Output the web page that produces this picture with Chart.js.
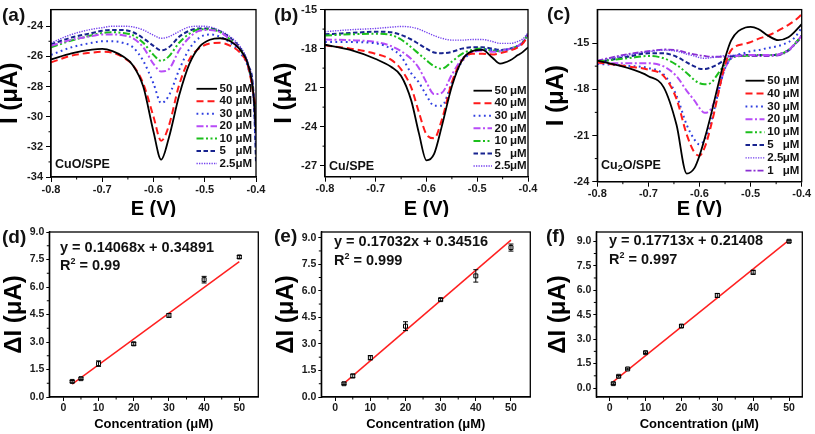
<!DOCTYPE html>
<html>
<head>
<meta charset="utf-8">
<script src="https://cdn.jsdelivr.net/npm/chart.js@4.4.1/dist/chart.umd.min.js"></script>
<style>
  body { margin: 0; background: #fff; width: 815px; height: 434px; position: relative; overflow: hidden; }
  canvas { position: absolute; }
</style>
</head>
<body>
<canvas id="pa" width="272" height="217" style="left:0;top:0"></canvas>
<canvas id="pb" width="272" height="217" style="left:272px;top:0"></canvas>
<canvas id="pc" width="271" height="217" style="left:544px;top:0"></canvas>
<canvas id="pd" width="272" height="217" style="left:0;top:217px"></canvas>
<canvas id="pe" width="272" height="217" style="left:272px;top:217px"></canvas>
<canvas id="pf" width="271" height="217" style="left:544px;top:217px"></canvas>
<script>
// ---- (a) CuO/SPE voltammograms ----
const aE = [-0.80, -0.76, -0.72, -0.70, -0.68, -0.66, -0.64, -0.62, -0.60, -0.585, -0.57, -0.55, -0.53, -0.51, -0.49, -0.47, -0.45, -0.43, -0.415, -0.405, -0.40];
const a50 = [-26.2, -25.8, -25.55, -25.5, -25.65, -26.0, -26.6, -28.0, -31.0, -32.85, -31.4, -28.6, -26.5, -25.35, -24.9, -24.8, -25.0, -25.6, -26.6, -28.5, -31.0];
const a40 = [-26.4, -25.95, -25.75, -25.7, -25.75, -26.05, -26.6, -27.8, -30.0, -31.6, -30.6, -27.9, -26.2, -25.45, -25.15, -25.1, -25.3, -25.8, -26.7, -28.5, -29.5];
const a30 = [-25.9, -25.4, -25.1, -25.0, -25.0, -25.1, -25.4, -26.3, -27.8, -29.1, -28.6, -26.9, -25.5, -24.75, -24.55, -24.7, -25.1, -25.8, -26.8, -28.6, -32.0];
const a20 = [-25.3, -24.9, -24.65, -24.55, -24.55, -24.6, -24.8, -25.4, -26.5, -27.0, -26.85, -25.6, -24.75, -24.3, -24.25, -24.4, -24.9, -25.6, -26.7, -28.5, -30.5];
const a10 = [-25.4, -24.95, -24.6, -24.45, -24.4, -24.45, -24.6, -25.1, -25.9, -26.3, -26.0, -25.1, -24.5, -24.2, -24.2, -24.4, -24.9, -25.6, -26.7, -28.5, -30.0];
const a5 = [-25.2, -24.75, -24.45, -24.3, -24.25, -24.25, -24.4, -24.8, -25.3, -25.6, -25.4, -24.7, -24.3, -24.15, -24.15, -24.35, -24.8, -25.5, -26.6, -28.4, -33.0];
const a2_5 = [-25.1, -24.55, -24.2, -24.1, -24.0, -24.0, -24.05, -24.25, -24.6, -24.8, -24.7, -24.35, -24.05, -24.0, -24.05, -24.3, -24.7, -25.4, -26.5, -28.4, -32.0];
const aLabels = ['50', '40', '30', '20', '10', '5', '2.5'];
const aSeries = [a50, a40, a30, a20, a10, a5, a2_5];
const aTicksY = [-34, -32, -30, -28, -26, -24];
const aTickLabelsY = ['-34', '-32', '-30', '-28', '-26', '-24'];

// ---- (b) Cu/SPE voltammograms ----
const bE = [-0.80, -0.75, -0.70, -0.67, -0.65, -0.63, -0.615, -0.60, -0.585, -0.57, -0.55, -0.53, -0.51, -0.49, -0.47, -0.455, -0.435, -0.42, -0.41, -0.40];
const b50 = [-17.7, -18.1, -18.8, -19.4, -20.1, -22.0, -24.5, -26.6, -26.1, -24.0, -20.9, -18.9, -18.2, -18.1, -18.7, -19.15, -18.9, -18.5, -18.25, -17.9];
const b40 = [-17.75, -18.0, -18.4, -18.85, -19.6, -21.0, -22.9, -24.6, -24.9, -23.5, -20.6, -18.9, -18.4, -18.4, -18.45, -18.35, -18.15, -17.9, -17.6, -17.0];
const b30 = [-17.5, -17.5, -17.6, -18.0, -18.6, -19.9, -20.6, -21.6, -22.4, -22.4, -20.6, -19.0, -18.3, -18.05, -18.1, -18.15, -18.0, -17.8, -17.55, -16.9];
const b20 = [-17.3, -17.35, -17.5, -17.8, -18.2, -18.8, -19.5, -20.6, -21.5, -21.4, -20.0, -18.8, -18.3, -18.15, -18.25, -18.2, -18.0, -17.8, -17.5, -16.9];
const b10 = [-17.0, -16.9, -16.85, -16.95, -17.3, -17.9, -18.4, -18.9, -19.35, -19.55, -19.0, -18.4, -18.1, -18.0, -18.15, -18.2, -18.0, -17.8, -17.5, -16.9];
const b5 = [-16.9, -16.8, -16.7, -16.75, -16.95, -17.3, -17.65, -18.0, -18.3, -18.35, -18.25, -18.0, -17.9, -17.9, -18.0, -18.1, -18.0, -17.8, -17.5, -16.9];
const b2_5 = [-16.7, -16.55, -16.45, -16.35, -16.3, -16.35, -16.5, -16.75, -17.0, -17.2, -17.35, -17.35, -17.3, -17.3, -17.45, -17.6, -17.6, -17.45, -17.25, -16.8];
const bLabels = ['50', '40', '30', '20', '10', '5', '2.5'];
const bSeries = [b50, b40, b30, b20, b10, b5, b2_5];
const bTicksY = [-27, -24, -21, -18, -15];
const bTickLabelsY = ['-27', '-24', '21', '-18', '-15'];

// ---- (c) Cu2O/SPE voltammograms ----
const cE = [-0.80, -0.74, -0.70, -0.67, -0.645, -0.625, -0.61, -0.60, -0.59, -0.577, -0.564, -0.551, -0.538, -0.51, -0.50, -0.485, -0.466, -0.446, -0.426, -0.413, -0.40];
const c50 = [-16.14, -16.62, -17.15, -17.88, -20.31, -23.47, -23.12, -22.31, -21.22, -19.58, -17.78, -16.1, -14.83, -13.99, -13.95, -14.09, -14.52, -14.81, -14.62, -14.24, -13.78];
const c40 = [-16.26, -16.52, -16.73, -17.15, -18.63, -20.94, -22.1, -22.31, -21.79, -20.31, -18.41, -16.52, -15.46, -15.04, -14.94, -14.73, -14.52, -14.2, -13.82, -13.52, -13.15];
const c30 = [-16.35, -16.48, -16.62, -17.04, -18.41, -20.31, -21.26, -21.58, -21.26, -20.1, -18.31, -16.73, -15.99, -15.63, -15.53, -15.46, -15.32, -15.19, -14.94, -14.62, -13.99];
const c20 = [-16.31, -16.31, -16.31, -16.52, -17.15, -18.1, -18.73, -19.22, -19.53, -19.26, -18.1, -16.73, -15.99, -15.78, -15.78, -15.78, -15.78, -15.74, -15.46, -15.04, -14.52];
const c10 = [-16.2, -15.99, -15.84, -15.99, -16.41, -16.94, -17.4, -17.61, -17.68, -17.57, -17.0, -16.41, -15.99, -15.82, -15.8, -15.78, -15.78, -15.74, -15.46, -15.04, -14.52];
const c5 = [-16.26, -15.89, -15.67, -15.67, -15.89, -16.26, -16.52, -16.67, -16.69, -16.58, -16.37, -16.1, -15.89, -15.78, -15.78, -15.78, -15.78, -15.74, -15.46, -15.04, -14.52];
const c2_5 = [-16.2, -15.78, -15.57, -15.46, -15.53, -15.72, -15.84, -15.95, -15.99, -15.95, -15.89, -15.82, -15.8, -15.78, -15.78, -15.78, -15.78, -15.74, -15.46, -15.04, -14.52];
const c1 = [-16.14, -15.72, -15.53, -15.42, -15.46, -15.63, -15.74, -15.8, -15.84, -15.89, -15.89, -15.89, -15.86, -15.84, -15.84, -15.84, -15.84, -15.8, -15.51, -15.08, -14.62];
const cLabels = ['50', '40', '30', '20', '10', '5', '2.5', '1'];
const cSeries = [c50, c40, c30, c20, c10, c5, c2_5, c1];
const cTicksY = [-24, -21, -18, -15];
const cTickLabelsY = ['-24', '-21', '-18', '-15'];

const eTicksX = [-0.8, -0.7, -0.6, -0.5, -0.4];
const eTickLabelsX = ['-0.8', '-0.7', '-0.6', '-0.5', '-0.4'];

// ---- (d)(e)(f) calibration ----
const dConc = [2.5, 5, 10, 20, 30, 40, 50];
const dVal = [0.85, 1.0, 1.82, 2.9, 4.45, 6.4, 7.64];
const dErr = [0.05, 0.05, 0.15, 0.08, 0.1, 0.18, 0.08];
const dFitX = [2.5, 50];
const dFitY = [0.70, 7.38];

const eConc = [2.5, 5, 10, 20, 30, 40, 50];
const eVal = [0.75, 1.19, 2.22, 4.0, 5.5, 6.84, 8.44];
const eErr = [0.05, 0.1, 0.12, 0.25, 0.07, 0.35, 0.2];
const eFitX = [2.5, 50];
const eFitY = [0.77, 8.86];

const fConc = [1, 2.5, 5, 10, 20, 30, 40, 50];
const fVal = [0.27, 0.72, 1.17, 2.17, 3.8, 5.68, 7.1, 9.0];
const fErr = [0.05, 0.05, 0.05, 0.05, 0.08, 0.12, 0.12, 0.06];
const fFitX = [1, 50];
const fFitY = [0.39, 9.07];

const calTicksX = [0, 10, 20, 30, 40, 50];
const calTickLabelsX = ['0', '10', '20', '30', '40', '50'];
const calTicksY = [0, 1.5, 3, 4.5, 6, 7.5, 9];
const calTickLabelsY = ['0.0', '1.5', '3.0', '4.5', '6.0', '7.5', '9.0'];

const SANS = "'Liberation Sans', Arial, sans-serif";
const NARROW = "'Liberation Sans Narrow', 'Liberation Sans', sans-serif";

// colour, dash, width per concentration
const LINE = {
  '50': ['#000000', [], 1.8],
  '40': ['#ff1a1a', [7, 4], 2],
  '30': ['#2f3fe0', [1.8, 3.4], 2],
  '20': ['#b84cf7', [7, 2.5, 2, 2.5], 2],
  '10': ['#1cbf1c', [7, 2.5, 2, 2.5, 2, 2.5], 2],
  '5': ['#17238f', [4.5, 2.5], 2],
  '2.5': ['#7442ee', [1.3, 1.2], 1.4],
  '1': ['#8a2fd2', [6, 2, 2, 2], 1.8]
};

// frame, minor ticks, error bars, in-plot legend and labels
const decor = {
  id: 'decor',
  afterDatasetsDraw(chart) {
    const { ctx, scales: { x, y } } = chart;
    ctx.save();
    ctx.strokeStyle = '#000';
    ctx.lineWidth = 1;
    chart.data.datasets.forEach(ds => {
      if (!ds.errors) return;
      ds.data.forEach((p, i) => {
        const px = x.getPixelForValue(p.x);
        const y1 = y.getPixelForValue(p.y - ds.errors[i]);
        const y2 = y.getPixelForValue(p.y + ds.errors[i]);
        ctx.beginPath();
        ctx.moveTo(px, y1); ctx.lineTo(px, y2);
        ctx.moveTo(px - 2.5, y1); ctx.lineTo(px + 2.5, y1);
        ctx.moveTo(px - 2.5, y2); ctx.lineTo(px + 2.5, y2);
        ctx.stroke();
      });
    });
    ctx.restore();
  },
  afterDraw(chart, args, o) {
    const { ctx, chartArea: a, scales: { x, y } } = chart;
    ctx.save();
    ctx.strokeStyle = '#000';
    ctx.lineWidth = 1.3;
    ctx.strokeRect(a.left, a.top, a.right - a.left, a.bottom - a.top);
    // minor ticks
    ctx.lineWidth = 1;
    ctx.beginPath();
    for (let i = 0; i < x.ticks.length - 1; i++) {
      const px = (x.getPixelForValue(x.ticks[i].value) + x.getPixelForValue(x.ticks[i + 1].value)) / 2;
      ctx.moveTo(px, a.bottom); ctx.lineTo(px, a.bottom + 2.5);
    }
    for (let i = 0; i < y.ticks.length - 1; i++) {
      const py = (y.getPixelForValue(y.ticks[i].value) + y.getPixelForValue(y.ticks[i + 1].value)) / 2;
      ctx.moveTo(a.left, py); ctx.lineTo(a.left - 2.5, py);
    }
    ctx.stroke();
    // legend inside the plot
    if (o.legend) {
      const L = o.legend;
      ctx.font = 'bold 11.5px ' + NARROW;
      ctx.textBaseline = 'middle';
      ctx.textAlign = 'left';
      chart.data.datasets.forEach((ds, i) => {
        const yy = L.y0 + i * L.dy;
        ctx.strokeStyle = ds.borderColor;
        ctx.lineWidth = ds.borderWidth;
        ctx.setLineDash(ds.borderDash);
        ctx.beginPath(); ctx.moveTo(L.x1, yy); ctx.lineTo(L.x2, yy); ctx.stroke();
        ctx.setLineDash([]);
        ctx.fillStyle = '#111';
        ctx.fillText(ds.label, L.xNum, yy);
        ctx.fillText('\u03bcM', L.xUnit, yy);
      });
    }
    // free text
    (o.texts || []).forEach(t => {
      let xx = t.x;
      ctx.textBaseline = 'middle';
      ctx.textAlign = 'left';
      ctx.fillStyle = '#111';
      t.parts.forEach(p => {
        ctx.font = p.font;
        ctx.fillText(p.s, xx, t.y + (p.dy || 0));
        xx += ctx.measureText(p.s).width;
      });
    });
    ctx.restore();
  }
};
Chart.register(decor);

function axisOpts(o) {
  return {
    type: 'linear',
    min: o.min,
    max: o.max,
    afterBuildTicks: s => { s.ticks = o.ticks.map(v => ({ value: v })); },
    afterFit: o.fit,
    border: { display: true, color: '#000', width: 1.3 },
    grid: { drawOnChartArea: false, drawTicks: true, tickLength: o.tickLen, color: '#000', lineWidth: 1 },
    ticks: {
      font: { family: SANS, size: o.fontSize, weight: 'bold' },
      color: '#1a1a1a', padding: o.pad, maxRotation: 0, autoSkip: false,
      callback: (v, i) => o.labels[i]
    },
    title: { display: true, text: o.title, color: '#000', padding: 0, font: o.titleFont }
  };
}

function voltChart(id, cfg) {
  const cv = document.getElementById(id);
  const W = cv.width, H = cv.height, A = cfg.area;
  new Chart(cv, {
    type: 'line',
    data: {
      datasets: cfg.labels.map((lab, k) => ({
        label: lab,
        data: cfg.E.map((e, i) => ({ x: e, y: cfg.series[k][i] })),
        borderColor: LINE[lab][0],
        borderDash: LINE[lab][1],
        borderWidth: LINE[lab][2],
        pointRadius: 0,
        fill: false,
        cubicInterpolationMode: 'monotone'
      }))
    },
    options: {
      responsive: false,
      animation: false,
      layout: { padding: { left: 0, top: A[1], right: W - A[2], bottom: 0 } },
      scales: {
        x: axisOpts({
          min: -0.8, max: -0.4, ticks: eTicksX, labels: eTickLabelsX,
          fit: s => { s.height = H - A[3]; }, tickLen: 5, pad: 1, fontSize: 11,
          title: 'E (V)', titleFont: { family: NARROW, size: 20, weight: 'bold', lineHeight: 0.76 }
        }),
        y: axisOpts({
          min: cfg.yMin, max: cfg.yMax, ticks: cfg.ticksY, labels: cfg.tickLabelsY,
          fit: s => { s.width = A[0]; }, tickLen: 5, pad: 3, fontSize: 11,
          title: 'I (\u03bcA)', titleFont: { family: SANS, size: 24, weight: 'bold', lineHeight: cfg.titleLH }
        })
      },
      plugins: {
        legend: { display: false },
        tooltip: { enabled: false },
        decor: { legend: cfg.legend, texts: cfg.texts }
      }
    }
  });
}

function calChart(id, cfg) {
  const cv = document.getElementById(id);
  const W = cv.width, H = cv.height, A = cfg.area;
  new Chart(cv, {
    type: 'scatter',
    data: {
      datasets: [
        {
          label: 'data',
          data: cfg.conc.map((c, i) => ({ x: c, y: cfg.val[i] })),
          errors: cfg.err,
          pointStyle: 'rect', pointRadius: 2.8, borderWidth: 1,
          borderColor: '#000', backgroundColor: '#fff', showLine: false
        },
        {
          label: 'fit',
          data: cfg.fitX.map((c, i) => ({ x: c, y: cfg.fitY[i] })),
          showLine: true, pointRadius: 0, borderColor: '#ff2020', borderWidth: 1.5
        }
      ]
    },
    options: {
      responsive: false,
      animation: false,
      layout: { padding: { left: 0, top: A[1], right: W - A[2], bottom: 0 } },
      scales: {
        x: axisOpts({
          min: cfg.xMin, max: cfg.xMax, ticks: calTicksX, labels: calTickLabelsX,
          fit: s => { s.height = H - A[3]; }, tickLen: 4, pad: 1, fontSize: 10.5,
          title: 'Concentration (\u03bcM)', titleFont: { family: SANS, size: 13, weight: 'bold', lineHeight: 1.5 }
        }),
        y: axisOpts({
          min: cfg.yMin, max: cfg.yMax, ticks: calTicksY, labels: calTickLabelsY,
          fit: s => { s.width = A[0]; }, tickLen: 3, pad: 2, fontSize: 10.5,
          title: '\u0394I (\u03bcA)', titleFont: { family: SANS, size: 24, weight: 'bold', lineHeight: 1.2 }
        })
      },
      plugins: {
        legend: { display: false },
        tooltip: { enabled: false },
        decor: { texts: cfg.texts }
      }
    }
  });
}

const PANEL_FONT = 'bold 19px ' + SANS;
const INNER_FONT = 'bold 12.5px ' + NARROW;
const EQ_FONT = 'bold 14.5px ' + SANS;

voltChart('pa', {
  E: aE, series: aSeries, labels: aLabels,
  yMin: -34, yMax: -22.9, ticksY: aTicksY, tickLabelsY: aTickLabelsY,
  area: [51, 5, 256, 177], titleLH: 0.88,
  legend: { x1: 196.5, x2: 217, xNum: 219.5, xUnit: 235.5, y0: 88.8, dy: 12.45 },
  texts: [
    { x: 2, y: 16, parts: [{ s: '(a)', font: PANEL_FONT }] },
    { x: 55, y: 164.5, parts: [{ s: 'CuO/SPE', font: INNER_FONT }] }
  ]
});

voltChart('pb', {
  E: bE, series: bSeries, labels: bLabels,
  yMin: -27.85, yMax: -15, ticksY: bTicksY, tickLabelsY: bTickLabelsY,
  area: [53, 8.5, 256, 176.7], titleLH: 1.0,
  legend: { x1: 201.5, x2: 220, xNum: 222.5, xUnit: 238, y0: 90.7, dy: 12.55 },
  texts: [
    { x: 2, y: 16, parts: [{ s: '(b)', font: PANEL_FONT }] },
    { x: 57, y: 166.5, parts: [{ s: 'Cu/SPE', font: INNER_FONT }] }
  ]
});

voltChart('pc', {
  E: cE, series: cSeries, labels: cLabels,
  yMin: -24, yMax: -12.83, ticksY: cTicksY, tickLabelsY: cTickLabelsY,
  area: [53.3, 5, 257.7, 181.7], titleLH: 1.0,
  legend: { x1: 201.5, x2: 220.5, xNum: 223.3, xUnit: 238.8, y0: 80.7, dy: 12.86 },
  texts: [
    { x: 3, y: 15, parts: [{ s: '(c)', font: PANEL_FONT }] },
    { x: 57, y: 166, parts: [
      { s: 'Cu', font: INNER_FONT },
      { s: '2', font: 'bold 9px ' + NARROW, dy: 3 },
      { s: 'O/SPE', font: INNER_FONT }
    ] }
  ]
});

calChart('pd', {
  conc: dConc, val: dVal, err: dErr, fitX: dFitX, fitY: dFitY,
  xMin: -4, xMax: 55.4, yMin: 0, yMax: 9,
  area: [49.3, 15, 258.3, 180],
  texts: [
    { x: 2, y: 20.5, parts: [{ s: '(d)', font: PANEL_FONT }] },
    { x: 60, y: 31, parts: [{ s: 'y = 0.14068x + 0.34891', font: EQ_FONT }] },
    { x: 60, y: 49, parts: [{ s: 'R', font: EQ_FONT }, { s: '2', font: 'bold 9px ' + SANS, dy: -4 }, { s: ' = 0.99', font: EQ_FONT }] }
  ]
});

calChart('pe', {
  conc: eConc, val: eVal, err: eErr, fitX: eFitX, fitY: eFitY,
  xMin: -3.95, xMax: 55.5, yMin: 0, yMax: 9.32,
  area: [49.3, 15, 258.3, 180],
  texts: [
    { x: 2, y: 20, parts: [{ s: '(e)', font: PANEL_FONT }] },
    { x: 62, y: 25, parts: [{ s: 'y = 0.17032x + 0.34516', font: EQ_FONT }] },
    { x: 62, y: 44, parts: [{ s: 'R', font: EQ_FONT }, { s: '2', font: 'bold 9px ' + SANS, dy: -4 }, { s: ' = 0.999', font: EQ_FONT }] }
  ]
});

calChart('pf', {
  conc: fConc, val: fVal, err: fErr, fitX: fFitX, fitY: fFitY,
  xMin: -3.74, xMax: 53.7, yMin: -0.55, yMax: 9.57,
  area: [52.3, 15, 258.3, 180],
  texts: [
    { x: 2, y: 19.5, parts: [{ s: '(f)', font: PANEL_FONT }] },
    { x: 65, y: 24, parts: [{ s: 'y = 0.17713x + 0.21408', font: EQ_FONT }] },
    { x: 65, y: 43, parts: [{ s: 'R', font: EQ_FONT }, { s: '2', font: 'bold 9px ' + SANS, dy: -4 }, { s: ' = 0.997', font: EQ_FONT }] }
  ]
});
</script>
</body>
</html>
